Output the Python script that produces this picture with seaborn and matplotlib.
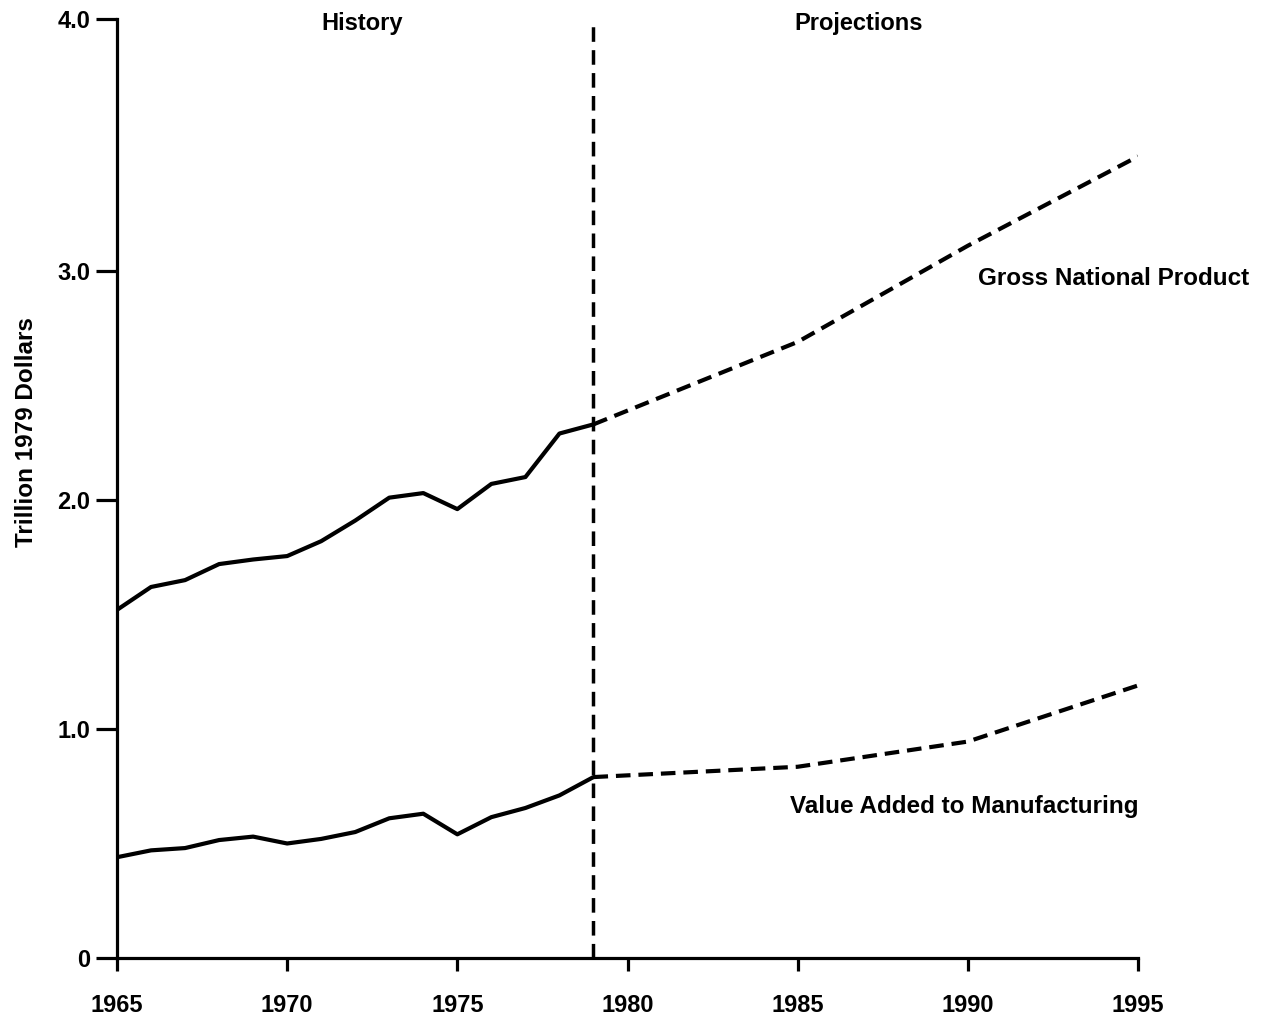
import matplotlib
matplotlib.use("Agg")
import matplotlib.pyplot as plt
import seaborn as sns
import pandas as pd

# ---- data (trillion 1979 dollars) ----
hist_years = [1965, 1966, 1967, 1968, 1969, 1970, 1971, 1972, 1973, 1974,
              1975, 1976, 1977, 1978, 1979]
gnp_hist = [1.52, 1.62, 1.65, 1.72, 1.74, 1.755, 1.82, 1.91, 2.01, 2.03,
            1.96, 2.07, 2.10, 2.29, 2.33]
vam_hist = [0.44, 0.47, 0.48, 0.515, 0.53, 0.50, 0.52, 0.55, 0.61, 0.63,
            0.54, 0.615, 0.655, 0.71, 0.79]

proj_years = [1979, 1985, 1990, 1995]
gnp_proj = [2.33, 2.69, 3.11, 3.50]
vam_proj = [0.79, 0.835, 0.945, 1.19]

x_ticks = [1965, 1970, 1975, 1980, 1985, 1990, 1995]
y_tick_labels = ["0", "1.0", "2.0", "3.0", "4.0"]
divider_year = 1979

hist = pd.DataFrame({
    "year": hist_years * 2,
    "value": gnp_hist + vam_hist,
    "series": ["Gross National Product"] * len(hist_years)
              + ["Value Added to Manufacturing"] * len(hist_years),
})
proj = pd.DataFrame({
    "year": proj_years * 2,
    "value": gnp_proj + vam_proj,
    "series": ["Gross National Product"] * len(proj_years)
              + ["Value Added to Manufacturing"] * len(proj_years),
})

sns.set_style("ticks")
plt.rcParams["font.family"] = ["Liberation Sans", "DejaVu Sans"]
plt.rcParams["font.weight"] = "bold"
plt.rcParams["text.color"] = "black"
plt.rcParams["axes.labelcolor"] = "black"
plt.rcParams["xtick.color"] = "black"
plt.rcParams["ytick.color"] = "black"

fig = plt.figure(figsize=(12.64, 10.30), dpi=100)
ax = fig.add_axes([117 / 1264, 1 - 958 / 1030, (1138 - 117) / 1264, (958 - 19) / 1030])

LW = 3.0
sns.lineplot(data=hist, x="year", y="value", units="series", estimator=None,
             color="black", linewidth=LW, ax=ax, legend=False)
sns.lineplot(data=proj, x="year", y="value", units="series", estimator=None,
             color="black", linewidth=LW, ax=ax, legend=False,
             dashes=False, linestyle=(0, (3.5, 1.9)))

ytop = 4.1
ax.plot([divider_year, divider_year], [0, ytop], color="black",
        linewidth=2.5, linestyle=(0, (4.2, 2.4)), clip_on=False)

ax.set_xlim(1965, 1995)
ax.set_ylim(0, ytop)
ax.set_xticks(x_ticks)
ax.set_xticklabels([str(t) for t in x_ticks])
ax.set_yticks([0, 1, 2, 3, ytop])
ax.set_yticklabels(y_tick_labels)

for sp in ["top", "right"]:
    ax.spines[sp].set_visible(False)
for sp in ["left", "bottom"]:
    ax.spines[sp].set_linewidth(2.3)
    ax.spines[sp].set_color("black")

ax.tick_params(axis="x", direction="out", length=9, width=2.3, pad=17,
               labelsize=17, colors="black")
ax.tick_params(axis="y", direction="out", length=15, width=2.3, pad=4,
               labelsize=17, colors="black")
for lbl in ax.get_xticklabels() + ax.get_yticklabels():
    lbl.set_fontweight("bold")

ax.set_xlabel("")
ax.set_ylabel("Trillion 1979 Dollars", fontsize=17.5, fontweight="bold",
              color="black", labelpad=2)
ax.yaxis.set_label_coords(-0.077, 0.56)

trans = ax.get_xaxis_transform()
ax.text(1972.2, 0.9947, "History", transform=trans, ha="center", va="center",
        fontsize=17, fontweight="bold", color="black")
ax.text(1986.8, 0.9947, "Projections", transform=trans, ha="center", va="center",
        fontsize=17, fontweight="bold", color="black")
ax.text(1990.3, 2.965, "Gross National Product", ha="left", va="center",
        fontsize=17.5, fontweight="bold", color="black", clip_on=False)
ax.text(1995, 0.66, "Value Added to Manufacturing", ha="right", va="center",
        fontsize=17.5, fontweight="bold", color="black")

fig.savefig("out.png", dpi=100, facecolor="white")
